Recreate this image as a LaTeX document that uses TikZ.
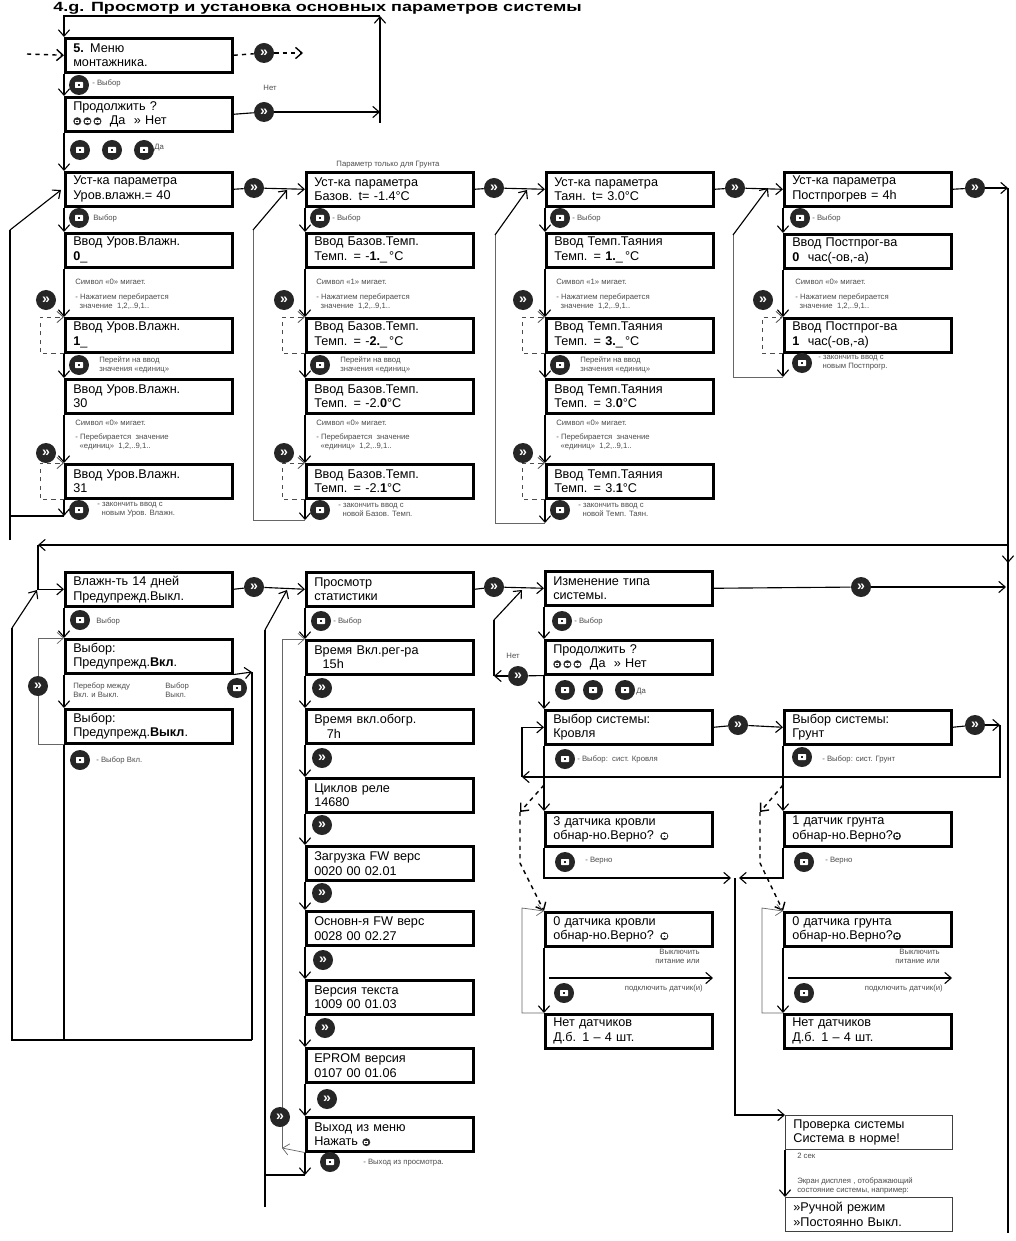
\documentclass[tikz,border=0pt]{standalone}
\usepackage{fontspec}
\usepackage{graphicx}
\setmainfont{Liberation Sans}
\usetikzlibrary{arrows.meta,backgrounds}

\newcommand{\minibtn}{\tikz[baseline=-0.9mm]{\fill[black!80] (0,0) circle (1mm); \fill[white] (-0.55mm,-0.42mm) rectangle (0.55mm,0.42mm); \fill[black!80] (-0.2mm,-0.15mm) rectangle (0.2mm,0.15mm);}}

\tikzset{
  lcd/.style={draw, line width=1.8pt, anchor=north west, inner xsep=0.2cm, inner ysep=0pt, text width=3.775cm, minimum height=0.85cm, align=left, font=\fontsize{9}{10.5}\selectfont},
  lcdthin/.style={lcd, line width=0.6pt, draw=black!75},
  nxt/.style={circle, fill=black!85, text=white, minimum size=0.5cm, inner sep=0pt, font=\fontsize{10}{10}\selectfont\bfseries},
  sel/.style={circle, fill=black!85, minimum size=0.5cm, inner sep=0pt, path picture={
    \fill[white, rounded corners=0.5pt] ([xshift=-1mm,yshift=-0.75mm]path picture bounding box.center) rectangle ([xshift=1mm,yshift=0.75mm]path picture bounding box.center);
    \fill[black!85] ([xshift=-0.35mm,yshift=-0.3mm]path picture bounding box.center) rectangle ([xshift=0.35mm,yshift=0.3mm]path picture bounding box.center);}},
  note/.style={anchor=west, inner sep=0pt, align=left, text=black!70, font=\fontsize{5.5}{6.5}\selectfont},
  flow/.style={line width=0.8pt, -{Straight Barb[length=1.6mm, width=2.8mm]}},
  link/.style={line width=0.8pt},
  back/.style={line width=0.5pt, draw=black!60},
  retry/.style={dashed, line width=0.6pt, draw=black!70},
  guess/.style={dashed, line width=1pt},
}

\begin{document}
\begin{tikzpicture}[x=0.025cm, y=-0.025cm]
\useasboundingbox (0,0) rectangle (1016,1241);

\node[anchor=base west, inner sep=0pt, font=\fontsize{9.5}{10}\selectfont\bfseries] (title) at (53,12) {\scalebox{1.35}[1]{4.g. Просмотр и установка основных параметров системы}};

% installer menu
\node[lcd] (menu) at (64,37) {\textbf{5.} Меню\\монтажника.};
\node[lcd] (ask) at (64,96) {Продолжить ?\\\minibtn\,\minibtn\,\minibtn\ \ Да \ » Нет};
\node[nxt] (menunx) at (264,53) {»};
\node[nxt] (asknx) at (264,112) {»};
\node[sel] (menusel) at (79,85) {};
\node[note] at (92,83) {- Выбор};
\node[note, anchor=center] at (270,88) {Нет};
\node[sel] (yes1) at (80,150) {};
\node[sel] (yes2) at (112,150) {};
\node[sel] (yes3) at (144,150) {};
\node[note] at (154,148) {Да};
\coordinate (entry) at (27,54);
\coordinate (exitR) at (303,53);
\coordinate (noR) at (380,112);
\coordinate (noB) at (380,123);
\coordinate (noT) at (380,16);

% parameter row
\node[lcd] (h0) at (64,171) {Уст-ка параметра\\Уров.влажн.= 40};
\node[lcd] (b0) at (305,171) {Уст-ка параметра\\Базов. t= -1.4°C};
\node[lcd] (m0) at (545,171) {Уст-ка параметра\\Таян. t= 3.0°C};
\node[lcd] (p0) at (783,171) {Уст-ка параметра\\Постпрогрев = 4h};
\node[note, anchor=south] at (388,168) {Параметр только для Грунта};
\node[nxt] (hnx) at (254,188) {»};
\node[nxt] (bnx) at (494,188) {»};
\node[nxt] (mnx) at (735,188) {»};
\node[nxt] (pnx) at (975,188) {»};
\coordinate (rTop) at (1008,188);
\coordinate (rBot) at (1008,1233);
\coordinate (rJoin) at (1008,545);
\coordinate (rDown) at (1008,563);
\coordinate (lJoin) at (38,545);
\node[sel] (hsel) at (79,218) {};
\node[note] at (93,218) {Выбор};
\node[sel] (bsel) at (320,218) {};
\node[note] at (332,218) {- Выбор};
\node[sel] (msel) at (560,218) {};
\node[note] at (572,218) {- Выбор};
\node[sel] (psel) at (800,218) {};
\node[note] at (812,218) {- Выбор};

% humidity input
\node[lcd] (h1) at (64,232) {Ввод Уров.Влажн.\\\textbf{0}\_};
\node[lcd] (h2) at (64,317) {Ввод Уров.Влажн.\\\textbf{1}\_};
\node[lcd] (h3) at (64,378) {Ввод Уров.Влажн.\\30};
\node[lcd] (h4) at (64,463) {Ввод Уров.Влажн.\\31};
\node[note] at (75,282) {Символ «0» мигает.};
\node[note] at (75,302) {- Нажатием перебирается\\\ \ значение\ \ 1,2,..9,1..};
\node[nxt] (hnx1) at (46,300) {»};
\node[sel] (hsel1) at (79,365) {};
\node[note] at (99,365) {Перейти на ввод\\значения «единиц»};
\node[note] at (75,423) {Символ «0» мигает.};
\node[note] at (75,442) {- Перебирается\ \ значение\\\ \ «единиц»\ \ 1,2,..9,1..};
\node[nxt] (hnx2) at (46,453) {»};
\node[sel] (hsel2) at (79,510) {};
\node[note] at (97,510) {- закончить ввод с\\\ \ новым Уров. Влажн.};
\coordinate (hd1) at (40,317);
\coordinate (hd2) at (40,463);
\coordinate (hEnd) at (64,516);
\coordinate (hLow) at (10,540);
\coordinate (hUp) at (10,230);
\coordinate (hIn) at (61,190);

% base temperature input
\node[lcd] (b1) at (305,232) {Ввод Базов.Темп.\\Темп. = -\textbf{1.}\_\,°C};
\node[lcd] (b2) at (305,317) {Ввод Базов.Темп.\\Темп. = -\textbf{2.}\_\,°C};
\node[lcd] (b3) at (305,378) {Ввод Базов.Темп.\\Темп. = -2.\textbf{0}°C};
\node[lcd] (b4) at (305,463) {Ввод Базов.Темп.\\Темп. = -2.\textbf{1}°C};
\node[note] at (316,282) {Символ «1» мигает.};
\node[note] at (316,302) {- Нажатием перебирается\\\ \ значение\ \ 1,2,..9,1..};
\node[nxt] (bnx1) at (284,300) {»};
\node[sel] (bsel1) at (320,365) {};
\node[note] at (340,365) {Перейти на ввод\\значения «единиц»};
\node[note] at (316,423) {Символ «0» мигает.};
\node[note] at (316,442) {- Перебирается\ \ значение\\\ \ «единиц»\ \ 1,2,..9,1..};
\node[nxt] (bnx2) at (284,453) {»};
\node[sel] (bsel2) at (320,510) {};
\node[note] at (338,510) {- закончить ввод с\\\ \ новой Базов. Темп.};
\coordinate (bd1) at (282,317);
\coordinate (bd2) at (282,463);
\coordinate (bEnd) at (305,520);
\coordinate (bUp) at (253,230);
\coordinate (bIn) at (287,190);

% melting temperature input
\node[lcd] (m1) at (545,232) {Ввод Темп.Таяния\\Темп. = \textbf{1.}\_\,°C};
\node[lcd] (m2) at (545,317) {Ввод Темп.Таяния\\Темп. = \textbf{3.}\_\,°C};
\node[lcd] (m3) at (545,378) {Ввод Темп.Таяния\\Темп. = 3.\textbf{0}°C};
\node[lcd] (m4) at (545,463) {Ввод Темп.Таяния\\Темп. = 3.\textbf{1}°C};
\node[note] at (556,282) {Символ «1» мигает.};
\node[note] at (556,302) {- Нажатием перебирается\\\ \ значение\ \ 1,2,..9,1..};
\node[nxt] (mnx1) at (523,300) {»};
\node[sel] (msel1) at (560,365) {};
\node[note] at (580,365) {Перейти на ввод\\значения «единиц»};
\node[note] at (556,423) {Символ «0» мигает.};
\node[note] at (556,442) {- Перебирается\ \ значение\\\ \ «единиц»\ \ 1,2,..9,1..};
\node[nxt] (mnx2) at (523,453) {»};
\node[sel] (msel2) at (560,510) {};
\node[note] at (578,510) {- закончить ввод с\\\ \ новой Темп. Таян.};
\coordinate (md1) at (522,317);
\coordinate (md2) at (522,463);
\coordinate (mEnd) at (545,523);
\coordinate (mUp) at (495,235);
\coordinate (mIn) at (527,190);

% post-heating input
\node[lcd] (p1) at (783,233) {Ввод Постпрог-ва\\\textbf{0}\ \ час(-ов,-а)};
\node[lcd] (p2) at (783,317) {Ввод Постпрог-ва\\\textbf{1}\ \ час(-ов,-а)};
\node[note] at (795,282) {Символ «0» мигает.};
\node[note] at (795,302) {- Нажатием перебирается\\\ \ значение\ \ 1,2,..9,1..};
\node[nxt] (pnx1) at (763,300) {»};
\node[sel] (psel1) at (802,363) {};
\node[note] at (818,363) {- закончить ввод с\\\ \ новым Постпрогр.};
\coordinate (pd1) at (762,317);
\coordinate (pEnd) at (783,377);
\coordinate (pUp) at (733,235);
\coordinate (pIn) at (768,188);

% humidity warning
\node[lcd] (w0) at (64,571) {Влажн-ть 14 дней\\Предупрежд.Выкл.};
\node[nxt] (wnx) at (254,587) {»};
\node[sel] (wsel) at (80,620) {};
\node[note] at (96,621) {Выбор};
\node[lcd] (w1) at (64,638) {Выбор:\\Предупрежд.\textbf{Вкл}.};
\node[lcd] (w2) at (64,708) {Выбор:\\Предупрежд.\textbf{Выкл}.};
\node[nxt] (wtog) at (38,686) {»};
\node[note] at (73,690) {Перебор между\\Вкл. и Выкл.};
\node[note] at (165,690) {Выбор\\Выкл.};
\node[sel] (woff) at (237,688) {};
\node[sel] (won) at (80,760) {};
\node[note] at (96,760) {- Выбор Вкл.};
\coordinate (wLoop) at (38,638);
\coordinate (wOff) at (252,672);
\coordinate (wOffB) at (252,1040);
\coordinate (wEnd) at (64,1040);
\coordinate (wBot) at (12,1040);
\coordinate (wUp) at (12,628);
\coordinate (wIn) at (37,590);

% statistics
\node[lcd] (s0) at (305,571) {Просмотр\\статистики};
\node[lcd] (s1) at (305,639) {Время Вкл.рег-ра\\\ \ 15h};
\node[lcd] (s2) at (305,708) {Время вкл.обогр.\\\ \ \ 7h};
\node[lcd] (s3) at (305,777) {Циклов реле\\14680};
\node[lcd] (s4) at (305,845) {Загрузка FW верс\\0020 00 02.01};
\node[lcd] (s5) at (305,910) {Основн-я FW верс\\0028 00 02.27};
\node[lcd] (s6) at (305,979) {Версия текста\\1009 00 01.03};
\node[lcd] (s7) at (305,1047) {EPROM версия\\0107 00 01.06};
\node[lcd] (s8) at (305,1116) {Выход из меню\\Нажать \minibtn};
\node[nxt] (snx) at (494,587) {»};
\node[sel] (ssel) at (321,621) {};
\node[note] at (333,621) {- Выбор};
\node[nxt] (snx1) at (322,688) {»};
\node[nxt] (snx2) at (322,758) {»};
\node[nxt] (snx3) at (322,825) {»};
\node[nxt] (snx4) at (322,893) {»};
\node[nxt] (snx5) at (323,960) {»};
\node[nxt] (snx6) at (325,1028) {»};
\node[nxt] (snx7) at (327,1099) {»};
\node[nxt] (sback) at (280,1117) {»};
\node[sel] (sout) at (330,1162) {};
\node[note] at (363,1163) {- Выход из просмотра.};
\coordinate (sEnd) at (305,1175);
\coordinate (sBot) at (265,1207);
\coordinate (sUp) at (265,630);
\coordinate (sIn) at (287,590);
\coordinate (sRet) at (282,1148);

% system type
\node[lcd] (c0) at (544,570) {Изменение типа\\системы.};
\node[nxt] (cnx) at (861,587) {»};
\coordinate (cR) at (1006,587);
\node[sel] (csel) at (562,621) {};
\node[note] at (574,621) {- Выбор};
\node[lcd] (c1) at (544,639) {Продолжить ?\\\minibtn\,\minibtn\,\minibtn\ \ Да \ » Нет};
\node[nxt] (cno) at (518,676) {»};
\node[note, anchor=center] at (513,656) {Нет};
\coordinate (cNoL) at (494,676);
\coordinate (cNoT) at (494,620);
\coordinate (cIn) at (522,590);
\node[sel] (cyes1) at (565,690) {};
\node[sel] (cyes2) at (593,690) {};
\node[sel] (cyes3) at (625,690) {};
\node[note] at (636,692) {Да};
\node[lcd] (k0) at (544,709) {Выбор системы:\\Кровля};
\node[lcd] (g0) at (783,709) {Выбор системы:\\Грунт};
\node[nxt] (knx) at (738,725) {»};
\node[nxt] (gnx) at (975,725) {»};
\coordinate (gR) at (1000,725);
\coordinate (kLB) at (522,777);
\node[sel] (ksel) at (565,759) {};
\node[note] at (577,759) {- Выбор:\ \ сист. Кровля};
\node[sel] (gsel) at (802,757) {};
\node[note] at (822,759) {- Выбор: сист. Грунт};

% sensors
\node[lcd] (k1) at (544,811) {3 датчика кровли\\обнар-но.Верно? \minibtn};
\node[lcd] (g1) at (783,811) {1 датчик грунта\\обнар-но.Верно?\minibtn};
\node[sel] (kok) at (565,862) {};
\node[note] at (585,861) {- Верно};
\node[sel] (gok) at (804,862) {};
\node[note] at (825,861) {- Верно};
\coordinate (kJ) at (731,878);
\coordinate (gJ) at (739,878);
\coordinate (jTop) at (735,878);
\coordinate (kd0) at (544,785);
\coordinate (kd1) at (520,812);
\coordinate (kd2) at (520,863);
\coordinate (gd0) at (783,785);
\coordinate (gd1) at (760,812);
\coordinate (gd2) at (760,863);
\node[lcd] (k2) at (544,911) {0 датчика кровли\\обнар-но.Верно? \minibtn};
\node[lcd] (g2) at (783,911) {0 датчика грунта\\обнар-но.Верно?\minibtn};
\node[note, anchor=north east, align=right] at (700,949) {Выключить\\питание или};
\node[note, anchor=north east, align=right] at (940,949) {Выключить\\питание или};
\coordinate (kOffA) at (549,978);
\coordinate (kOffB) at (713,978);
\coordinate (gOffA) at (788,978);
\coordinate (gOffB) at (952,978);
\node[note, anchor=east] at (703,988) {подключить датчик(и)};
\node[note, anchor=east] at (943,988) {подключить датчик(и)};
\node[sel] (kno) at (564,993) {};
\node[sel] (gno) at (804,993) {};
\coordinate (kL) at (522,908);
\coordinate (gL) at (762,908);
\node[lcd] (k3) at (544,1013) {Нет датчиков\\Д.б. 1 – 4 шт.};
\node[lcd] (g3) at (783,1013) {Нет датчиков\\Д.б. 1 – 4 шт.};

% result screens
\node[lcdthin] (v0) at (785,1115) {Проверка системы\\Система в норме!};
\node[note] at (797,1156) {2 сек};
\node[note] at (797,1186) {Экран дисплея , отображающий\\состояние системы, например:};
\node[lcdthin] (v1) at (785,1197) {»Ручной режим\\»Постоянно Выкл.};

\begin{scope}[on background layer]
% menu
\draw[flow, guess] (entry) -- (menu.west);
\draw[guess] (menu.east) -- (menunx);
\draw[flow, guess] (menunx) -- (exitR);
\draw[flow] (menu.south west) -- (ask.north west);
\draw[link] (ask.east) -- (asknx);
\draw[flow] (asknx) -- (noR);
\draw[flow] (noB) -- (noT);
\draw[flow] (noT) -| (menu.north west);
\draw[flow] (ask.south west) -- (h0.north west);
% row
\draw[link] (h0.east) -- (hnx);
\draw[flow] (hnx) -- (b0.west);
\draw[link] (b0.east) -- (bnx);
\draw[flow] (bnx) -- (m0.west);
\draw[link] (m0.east) -- (mnx);
\draw[flow] (mnx) -- (p0.west);
\draw[link] (p0.east) -- (pnx);
\draw[flow] (pnx) -- (rTop);
\draw[link] (rTop) -- (rBot);
\draw[flow] (rJoin) -- (rDown);
\draw[flow] (rJoin) -- (lJoin);
\draw[flow] (lJoin) |- (w0.west);
% humidity
\draw[flow] (h0.south west) -- (h1.north west);
\draw[flow] (h1.south west) -- (h2.north west);
\draw[flow] (h2.south west) -- (h3.north west);
\draw[flow] (h3.south west) -- (h4.north west);
\draw[flow] (h4.south west) -- (hEnd);
\draw[flow, retry] (h2.south west) -| (hd1) -- (h2.north west);
\draw[flow, retry] (h4.south west) -| (hd2) -- (h4.north west);
\draw[link] (hEnd) -| (hUp);
\draw[link] (hLow) -- (hUp);
\draw[flow] (hUp) -- (hIn);
% base temperature
\draw[flow] (b0.south west) -- (b1.north west);
\draw[flow] (b1.south west) -- (b2.north west);
\draw[flow] (b2.south west) -- (b3.north west);
\draw[flow] (b3.south west) -- (b4.north west);
\draw[flow] (b4.south west) -- (bEnd);
\draw[flow, retry] (b2.south west) -| (bd1) -- (b2.north west);
\draw[flow, retry] (b4.south west) -| (bd2) -- (b4.north west);
\draw[back] (bEnd) -| (bUp);
\draw[flow] (bUp) -- (bIn);
% melting temperature
\draw[flow] (m0.south west) -- (m1.north west);
\draw[flow] (m1.south west) -- (m2.north west);
\draw[flow] (m2.south west) -- (m3.north west);
\draw[flow] (m3.south west) -- (m4.north west);
\draw[flow] (m4.south west) -- (mEnd);
\draw[flow, retry] (m2.south west) -| (md1) -- (m2.north west);
\draw[flow, retry] (m4.south west) -| (md2) -- (m4.north west);
\draw[back] (mEnd) -| (mUp);
\draw[flow] (mUp) -- (mIn);
% post-heating
\draw[flow] (p0.south west) -- (p1.north west);
\draw[flow] (p1.south west) -- (p2.north west);
\draw[flow] (p2.south west) -- (pEnd);
\draw[flow, retry] (p2.south west) -| (pd1) -- (p2.north west);
\draw[back] (pEnd) -| (pUp);
\draw[flow] (pUp) -- (pIn);
% warning
\draw[link] (w0.east) -- (wnx);
\draw[flow] (wnx) -- (s0.west);
\draw[flow] (w0.south west) -- (w1.north west);
\draw[flow] (w1.south west) -- (w2.north west);
\draw[flow, back] (w2.south west) -| (wLoop) -- (w1.north west);
\draw[flow] (w1.south east) -- (wOff);
\draw[link] (wOff) -- (wOffB);
\draw[link] (w2.south west) -- (wEnd);
\draw[link] (wOffB) -- (wBot) -- (wUp);
\draw[flow] (wUp) -- (wIn);
% statistics
\draw[link] (s0.east) -- (snx);
\draw[flow] (snx) -- (c0.west);
\draw[flow] (s0.south west) -- (s1.north west);
\draw[flow] (s1.south west) -- (s2.north west);
\draw[flow] (s2.south west) -- (s3.north west);
\draw[flow] (s3.south west) -- (s4.north west);
\draw[flow] (s4.south west) -- (s5.north west);
\draw[flow] (s5.south west) -- (s6.north west);
\draw[flow] (s6.south west) -- (s7.north west);
\draw[flow] (s7.south west) -- (s8.north west);
\draw[flow] (s8.south west) -- (sEnd);
\draw[link] (sEnd) -| (sBot);
\draw[link] (sBot) -- (sUp);
\draw[flow] (sUp) -- (sIn);
\draw[flow, back] (s8.south west) -- (sRet);
\draw[flow, back] (sRet) |- (s1.north west);
% system type
\draw[link] (c0.east) -- (cnx);
\draw[flow] (cnx) -- (cR);
\draw[flow] (c0.south west) -- (c1.north west);
\draw[link] (c1.south west) -- (cno);
\draw[flow] (cno) -- (cNoL);
\draw[link] (cNoL) -- (cNoT);
\draw[flow] (cNoT) -- (cIn);
\draw[flow] (c1.south west) -- (k0.north west);
\draw[link] (k0.east) -- (knx);
\draw[flow] (knx) -- (g0.west);
\draw[link] (g0.east) -- (gnx);
\draw[flow] (gnx) -- (gR);
\draw[flow] (gR) |- (kLB);
\draw[flow] (kLB) |- (k0.west);
% sensors
\draw[flow] (k0.south west) -- (k1.north west);
\draw[flow] (g0.south west) -- (g1.north west);
\draw[flow, guess] (kd0) -- (kd1);
\draw[flow, guess] (kd1) -- (kd2) -- (k2.north west);
\draw[flow, guess] (gd0) -- (gd1);
\draw[flow, guess] (gd1) -- (gd2) -- (g2.north west);
\draw[flow] (k1.south west) |- (kJ);
\draw[flow] (g1.south west) |- (gJ);
\draw[flow] (jTop) |- (v0.north west);
\draw[flow] (k2.south west) -- (k3.north west);
\draw[flow] (g2.south west) -- (g3.north west);
\draw[flow] (kOffA) -- (kOffB);
\draw[flow] (gOffA) -- (gOffB);
\draw[flow, back] (k3.north west) -| (kL) -- (k2.north west);
\draw[flow, back] (g3.north west) -| (gL) -- (g2.north west);
\draw[flow] (v0.south west) -- (v1.north west);
\end{scope}
\end{tikzpicture}
\end{document}
